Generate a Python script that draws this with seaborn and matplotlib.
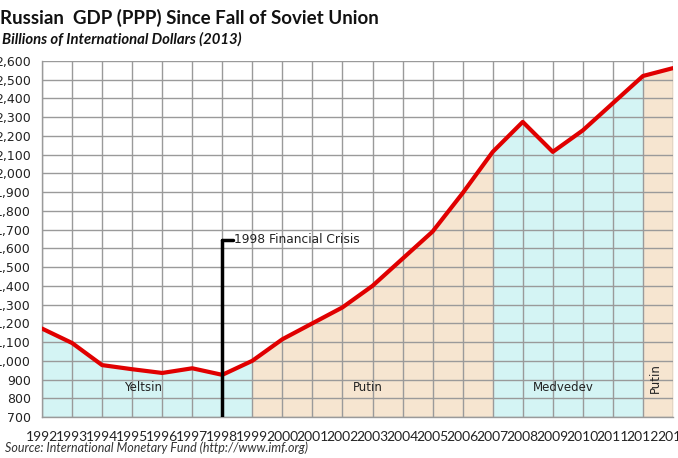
import numpy as np
import pandas as pd
import seaborn as sns
import matplotlib.pyplot as plt
from matplotlib.ticker import FuncFormatter, MultipleLocator

# data
years = list(range(1992, 2014))
gdp = [1172, 1095, 977, 955, 935, 960, 925, 1000, 1115, 1200, 1285, 1400,
       1545, 1690, 1895, 2115, 2275, 2115, 2230, 2375, 2520, 2562]
era_names = ['Yeltsin', 'Putin', 'Medvedev', 'Putin']
era_start = [1992, 1999, 2007, 2012]
era_end = [1999, 2007, 2012, 2013]
crisis_year = 1998
crisis_top = 1645

df = pd.DataFrame({'year': years, 'gdp': gdp})

sns.set_theme(style='white')
plt.rcParams['font.family'] = ['DejaVu Sans']

fig = plt.figure(figsize=(6.78, 4.58), dpi=100)
ax = fig.add_axes([42 / 678, 1 - 417 / 458, 631 / 678, 356 / 458])

# 區段底色
era_colors = ['#d4f4f4', '#f6e5d0', '#d4f4f4', '#f6e5d0']
for s, e, c in zip(era_start, era_end, era_colors):
    seg = df[(df['year'] >= s) & (df['year'] <= e)]
    ax.fill_between(seg['year'], 700, seg['gdp'], color=c, lw=0, zorder=0)

sns.lineplot(data=df, x='year', y='gdp', color='#e00000', lw=3, ax=ax, zorder=3)

ax.set_xlim(1992, 2013)
ax.set_ylim(700, 2600)
ax.xaxis.set_major_locator(MultipleLocator(1))
ax.yaxis.set_major_locator(MultipleLocator(100))
ax.yaxis.set_major_formatter(FuncFormatter(lambda v, p: f'{int(v):,}'))
ax.grid(True, color='#9a9a9a', lw=1)
for sp in ax.spines.values():
    sp.set_color('#9a9a9a')
    sp.set_linewidth(1)
ax.spines['top'].set_visible(False)
ax.spines['right'].set_visible(False)
for gl in ax.get_xgridlines() + ax.get_ygridlines():
    gl.set_zorder(1)
ax.tick_params(axis='both', length=0, colors='#222222')
ax.tick_params(axis='x', pad=10, labelsize=10)
ax.tick_params(axis='y', pad=8, labelsize=9)
for lb in ax.get_xticklabels():
    lb.set_family('Lato')
ax.set_xlabel('')
ax.set_ylabel('')

# 危機標示
ax.plot([crisis_year, crisis_year], [700, crisis_top], color='black', lw=2.5, zorder=4)
ax.plot([crisis_year, crisis_year + 0.35], [crisis_top, crisis_top], color='black', lw=2.5, zorder=4)
ax.text(crisis_year + 0.4, crisis_top, '1998 Financial Crisis', fontsize=8.8,
        va='center', ha='left', color='#222222', zorder=5)

# 區段名稱
for s, e, n in zip(era_start, era_end, era_names):
    if e - s > 1:
        ax.text((s + e) / 2 - 0.15, 860, n, fontsize=8.5, ha='center', va='center', color='#222222')
    else:
        ax.text((s + e) / 2 - 0.1, 910, n, fontsize=8.5, ha='center', va='center',
                rotation=90, color='#222222')

fig.text(0.0, 1 - 18 / 458, 'Russian  GDP (PPP) Since Fall of Soviet Union', fontsize=13.5,
         fontweight='bold', family='Lato', va='center', ha='left', color='#111111')
fig.text(0.003, 1 - 39 / 458, 'Billions of International Dollars (2013)', fontsize=10.7,
         fontweight='bold', style='italic', family='Lato', va='center', ha='left',
         color='#111111')
fig.text(0.008, 1 - 448 / 458, 'Source: International Monetary Fund (http://www.imf.org)',
         fontsize=9, style='italic', family='Lato', va='center', ha='left', color='#333333')

fig.savefig('out.png', dpi=100)
